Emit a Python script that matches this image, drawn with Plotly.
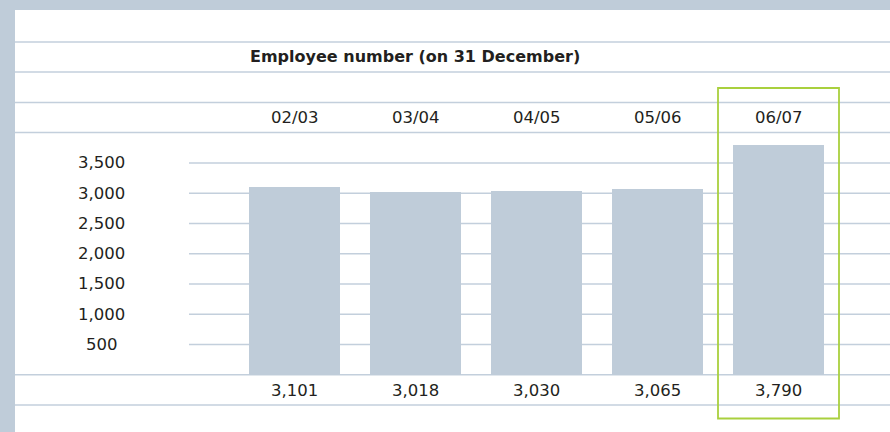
import plotly.graph_objects as go

# ---- data ----
categories = ["02/03", "03/04", "04/05", "05/06", "06/07"]
employees = [3101, 3018, 3030, 3065, 3790]
value_labels = ["3,101", "3,018", "3,030", "3,065", "3,790"]
y_ticks = [500, 1000, 1500, 2000, 2500, 3000, 3500]
y_tick_labels = ["500", "1,000", "1,500", "2,000", "2,500", "3,000", "3,500"]
title_text = "Employee number (on 31 December)"

W, H = 890, 432
FRAME = "#BFCCD9"
BAR = "#BFCCD9"
LINE = "#C3CFDC"
GREEN = "#A9D03E"
TXT = "#231F20"
FONT = "DejaVu Sans"

def py(p):  # pixel y -> paper fraction
    return 1 - p / H

def px(p):
    return p / W

fig = go.Figure()
fig.add_trace(go.Bar(
    x=categories, y=employees, width=0.752,
    marker=dict(color=BAR, line=dict(width=0)),
    hoverinfo="skip",
))

shapes = []
# white card on blue-grey frame
shapes.append(dict(type="rect", xref="paper", yref="paper",
                   x0=px(15), x1=1, y0=0, y1=py(10),
                   fillcolor="white", line=dict(width=0), layer="below"))
# full-width table rules
for p in [42, 72, 102.5, 132.5, 405]:
    shapes.append(dict(type="line", xref="paper", yref="paper",
                       x0=px(15), x1=1, y0=py(p), y1=py(p),
                       line=dict(color=LINE, width=1.6), layer="below"))
# baseline at zero
shapes.append(dict(type="line", xref="paper", yref="y",
                   x0=px(15), x1=1, y0=0, y1=0,
                   line=dict(color=LINE, width=1.6), layer="below"))
# gridlines
for t in y_ticks:
    shapes.append(dict(type="line", xref="paper", yref="y",
                       x0=px(189), x1=1, y0=t, y1=t,
                       line=dict(color=LINE, width=1.4), layer="below"))
# highlight frame around last category
shapes.append(dict(type="rect", xref="x", yref="paper",
                   x0=len(categories) - 1.5, x1=len(categories) - 0.5,
                   y0=py(418.5), y1=py(88),
                   line=dict(color=GREEN, width=1.8), fillcolor="rgba(0,0,0,0)",
                   layer="above"))

annotations = []
annotations.append(dict(text="<b>" + title_text + "</b>", xref="paper", yref="paper",
                        x=px(248), y=py(57), xanchor="left", yanchor="middle",
                        showarrow=False, font=dict(family=FONT, size=16, color=TXT)))
for c, v in zip(categories, value_labels):
    annotations.append(dict(text=c, xref="x", yref="paper", x=c, y=py(117.5),
                            xanchor="center", yanchor="middle", showarrow=False,
                            font=dict(family=FONT, size=16.5, color=TXT)))
    annotations.append(dict(text=v, xref="x", yref="paper", x=c, y=py(390),
                            xanchor="center", yanchor="middle", showarrow=False,
                            font=dict(family=FONT, size=16.5, color=TXT)))
for t, lab in zip(y_ticks, y_tick_labels):
    annotations.append(dict(text=lab, xref="paper", yref="y", x=px(101.5), y=t,
                            xanchor="center", yanchor="middle", showarrow=False,
                            font=dict(family=FONT, size=16.5, color=TXT)))

y_top = 374.7 / 0.06049
y_bot = -(H - 374.7) / 0.06049
x_left = (0 - 294.5) / 121
x_right = (W - 294.5) / 121

fig.update_layout(
    width=W, height=H,
    margin=dict(l=0, r=0, t=0, b=0),
    paper_bgcolor=FRAME, plot_bgcolor="rgba(0,0,0,0)",
    showlegend=False,
    xaxis=dict(domain=[0, 1], range=[x_left, x_right], showgrid=False,
               zeroline=False, showticklabels=False, showline=False, fixedrange=True),
    yaxis=dict(domain=[0, 1], range=[y_bot, y_top], showgrid=False,
               zeroline=False, showticklabels=False, showline=False, fixedrange=True),
    shapes=shapes, annotations=annotations,
    bargap=0,
)

fig.write_html("out.html", config={"displayModeBar": False},
               post_script="document.body.style.margin='0';document.body.style.overflow='hidden';")
